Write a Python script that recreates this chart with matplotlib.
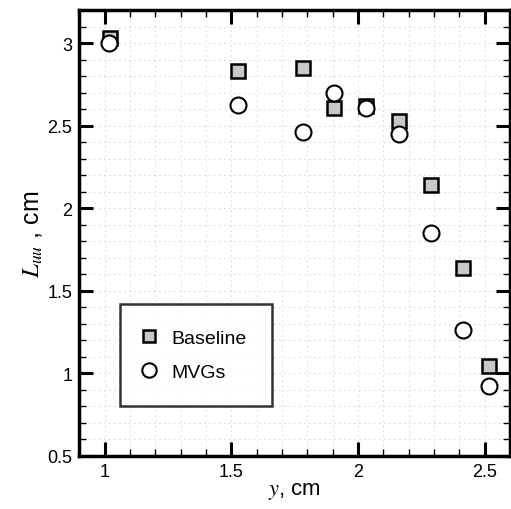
import numpy as np
import matplotlib.pyplot as plt
from matplotlib.ticker import MultipleLocator

# Baseline (squares) and MVGs (circles)
y_base = [1.02, 1.527, 1.783, 1.906, 2.03, 2.161, 2.287, 2.413, 2.516]
L_base = [3.03, 2.83, 2.85, 2.61, 2.62, 2.53, 2.14, 1.64, 1.045]
y_mvg = [1.016, 1.527, 1.783, 1.906, 2.03, 2.161, 2.287, 2.413, 2.516]
L_mvg = [3.0, 2.625, 2.46, 2.70, 2.61, 2.45, 1.85, 1.26, 0.925]

plt.rcParams['font.family'] = ['Liberation Sans', 'DejaVu Sans']
plt.rcParams['mathtext.fontset'] = 'stix'

fig = plt.figure(figsize=(5.11, 5.10), dpi=100)
ax = fig.add_axes([0.155, 0.104, 0.843, 0.874])

ax.plot(y_base, L_base, 's', ms=9.5, mfc='#c8c8c8', mec='black', mew=1.8,
        label='Baseline', zorder=3)
ax.plot(y_mvg, L_mvg, 'o', ms=11.5, mfc='white', mec='black', mew=1.5,
        label='MVGs', zorder=4)

ax.set_xlim(0.9, 2.6)
ax.set_ylim(0.5, 3.2)
ax.xaxis.set_minor_locator(MultipleLocator(0.1))
ax.yaxis.set_minor_locator(MultipleLocator(0.1))
ax.set_xticks([1, 1.5, 2, 2.5])
ax.set_xticklabels(['1', '1.5', '2', '2.5'])
ax.set_yticks([0.5, 1, 1.5, 2, 2.5, 3])
ax.set_yticklabels(['0.5', '1', '1.5', '2', '2.5', '3'])

ax.tick_params(which='major', direction='in', length=10, width=2.2,
               top=True, right=True, labelsize=13, pad=5)
ax.tick_params(which='minor', direction='in', length=5, width=1,
               top=True, right=True)
ax.grid(which='both', color='#aaaaaa', linestyle=(0, (1, 5)), linewidth=0.6)

for s in ax.spines.values():
    s.set_linewidth(2.5)

ax.set_xlabel(r'$y$, cm', fontsize=16, labelpad=0)
ax.set_ylabel(r'$L_{uu}$ , cm', fontsize=18, labelpad=2)

leg = ax.legend(loc='lower left', bbox_to_anchor=(0.095, 0.112), fontsize=14,
                frameon=True, fancybox=False, borderpad=1.3, handlelength=0.4,
                handletextpad=0.95, labelspacing=0.85, borderaxespad=0,
                markerscale=0.9)
leg.get_frame().set_edgecolor('black')
leg.get_frame().set_linewidth(1.8)

fig.savefig('out.png', dpi=100)
